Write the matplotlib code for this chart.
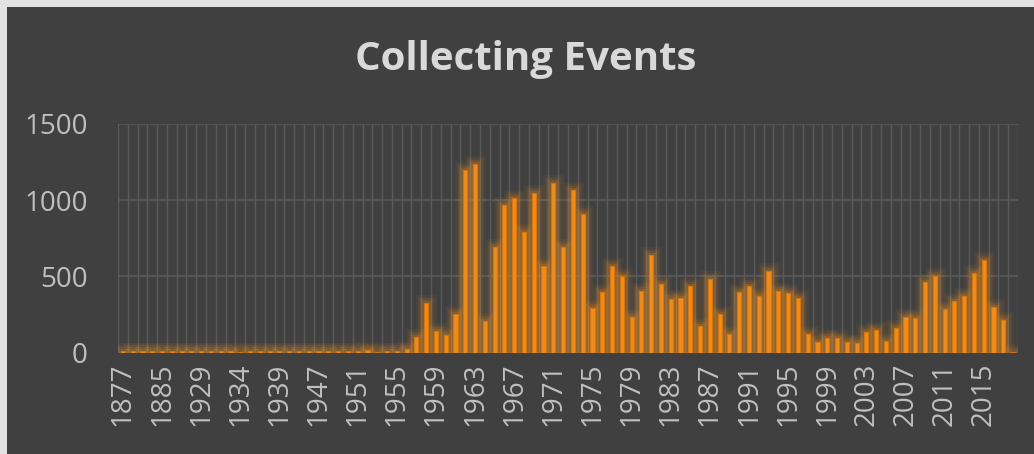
import numpy as np
import matplotlib.pyplot as plt
from matplotlib.patches import Rectangle

# categories (only every 4th label is shown on the axis)
years = [1877, 1878, 1880, 1883, 1885, 1887, 1890, 1905, 1929, 1930, 1931, 1933,
         1934, 1935, 1936, 1937, 1939, 1940, 1941, 1944, 1947, 1948, 1949, 1950,
         1951] + list(range(1952, 2019))

events = [8, 8, 8, 8, 8, 8, 8, 8, 8, 8, 12, 8,
          7, 8, 9, 13, 13, 8, 8, 10, 8, 8, 8, 12,
          12,
          20, 4, 13, 13, 24, 105, 329, 140, 116, 257,          # 1952-1961
          1200, 1239, 206, 691, 969, 1013, 794, 1046, 570, 1114,  # 1962-1971
          691, 1070, 912, 294, 397, 568, 500, 232, 403, 640,   # 1972-1981
          452, 349, 357, 439, 178, 485, 257, 121, 395, 436,    # 1982-1991
          373, 539, 406, 390, 357, 121, 72, 99, 96, 68,        # 1992-2001
          66, 136, 149, 79, 164, 232, 230, 463, 504, 285,      # 2002-2011
          342, 371, 522, 607, 300, 217, 5]                     # 2012-2018

TITLE = "Collecting Events"
BG = "#404040"
GRID = "#5A5A5A"
TXT = "#BFBFBF"
ORANGE = "#F08C1A"

W, H = 1034, 454
fig = plt.figure(figsize=(W / 100, H / 100), dpi=100, facecolor=BG)

# light strips on the left/top edge of the screenshot
fig.patches.append(Rectangle((0, 0), 7 / W, 1, transform=fig.transFigure,
                             facecolor="#E2E2E2", edgecolor="none", zorder=0))
fig.patches.append(Rectangle((0, 1 - 7 / H), 1, 7 / H, transform=fig.transFigure,
                             facecolor="#E2E2E2", edgecolor="none", zorder=0))

ax = fig.add_axes([118 / W, 1 - 352.7 / H, 900 / W, (352.7 - 124) / H])
ax.set_facecolor(BG)

x = np.arange(len(years))
vals = np.array(events)

# glow
for lw, a in [(12, 0.06), (9, 0.08), (6, 0.11), (3.5, 0.16)]:
    ax.bar(x, vals, width=0.42, color="none",
           edgecolor=(0.96, 0.58, 0.12, a), linewidth=lw, zorder=2)
ax.bar(x, vals, width=0.42, color=ORANGE, edgecolor="#D7760F",
       linewidth=0.8, zorder=3)

ax.set_xlim(-0.5, len(years) - 0.5)
ax.set_ylim(0, 1500)
ax.set_yticks([0, 500, 1000, 1500])

ax.set_xticks(x[::4])
ax.set_xticklabels([str(y) for y in years[::4]], rotation=90)
ax.set_xticks(np.arange(-0.5, len(years), 1.0), minor=True)

ax.grid(axis="y", which="major", color=GRID, linewidth=1.2, zorder=0)
ax.grid(axis="x", which="minor", color=GRID, linewidth=1.0, zorder=0)
ax.grid(axis="x", which="major", visible=False)
ax.set_axisbelow(True)

for s in ax.spines.values():
    s.set_visible(False)

ax.tick_params(axis="both", which="both", length=0, colors=TXT)
ax.tick_params(axis="y", labelsize=20, pad=22)
ax.tick_params(axis="x", labelsize=20, pad=7)
for lab in ax.get_xticklabels() + ax.get_yticklabels():
    lab.set_fontfamily("Open Sans")
    lab.set_color(TXT)

fig.text(526 / W, 1 - 70 / H, TITLE, ha="center", va="baseline",
         fontsize=29, fontweight="bold", color="#D9D9D9", family="Open Sans")

fig.savefig("out.png", dpi=100, facecolor=fig.get_facecolor())
